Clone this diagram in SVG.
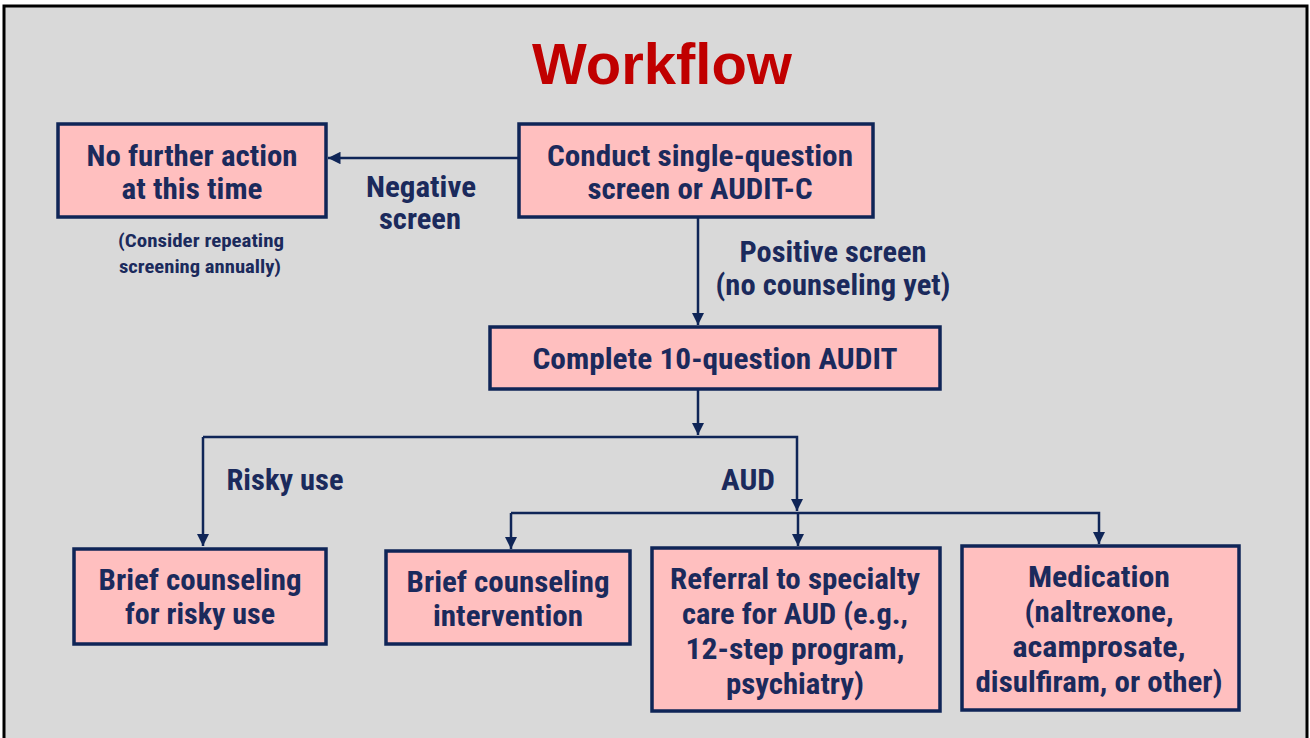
<svg xmlns="http://www.w3.org/2000/svg" width="1310" height="738" viewBox="0 0 1310 738">
<defs>
<style>
.bg{fill:#D9D9D9;stroke:#000;stroke-width:3}
.box{fill:#FFBFBF;stroke:#0F2557;stroke-width:3.5}
.t{font-family:"Roboto Condensed","DejaVu Sans Condensed","Liberation Sans Narrow",Roboto,sans-serif;font-weight:bold;font-size:30px;fill:#1B2A5C;text-anchor:middle}
.s{font-size:18px}
.title{font-family:"Liberation Sans",Arial,sans-serif;font-weight:bold;font-size:58px;fill:#C00000;text-anchor:middle}
.c{fill:none;stroke:#0F2557;stroke-width:2.5}
</style>
<marker id="ah" viewBox="0 0 10 10" refX="10" refY="5" markerWidth="5" markerHeight="5" markerUnits="strokeWidth" orient="auto">
<path d="M0,0 L10,5 L0,10 z" fill="#0F2557"/>
</marker>
</defs>
<rect class="bg" x="4" y="6" width="1303" height="740"/>
<text class="title" x="662" y="84">Workflow</text>

<g id="connectors">
<path class="c" d="M519,158 H328" marker-end="url(#ah)"/>
<path class="c" d="M698,217 V325" marker-end="url(#ah)"/>
<path class="c" d="M698,389 V435" marker-end="url(#ah)"/>
<path class="c" d="M203,437 H797 V511" marker-end="url(#ah)"/>
<path class="c" d="M203,437 V546" marker-end="url(#ah)"/>
<path class="c" d="M511,513 H1099 V544" marker-end="url(#ah)"/>
<path class="c" d="M511,513 V549" marker-end="url(#ah)"/>
<path class="c" d="M798,513 V546" marker-end="url(#ah)"/>
</g>

<g id="labels">
<text class="t" x="421" y="197" textLength="110" lengthAdjust="spacingAndGlyphs">Negative</text>
<text class="t" x="420" y="229" textLength="82" lengthAdjust="spacingAndGlyphs">screen</text>
<text class="t" x="833" y="262" textLength="187" lengthAdjust="spacingAndGlyphs">Positive screen</text>
<text class="t" x="833" y="295" textLength="235" lengthAdjust="spacingAndGlyphs">(no counseling yet)</text>
<text class="t" x="285" y="490" textLength="117" lengthAdjust="spacingAndGlyphs">Risky use</text>
<text class="t" x="748" y="490" textLength="54" lengthAdjust="spacingAndGlyphs">AUD</text>
</g>

<g id="n-nofurther">
<rect class="box" x="58" y="124" width="268" height="93"/>
<text class="t" x="192" y="166" textLength="211" lengthAdjust="spacingAndGlyphs">No further action</text>
<text class="t" x="192" y="199" textLength="141" lengthAdjust="spacingAndGlyphs">at this time</text>
</g>
<g id="n-consider">
<text class="t s" x="201" y="247" textLength="166" lengthAdjust="spacingAndGlyphs">(Consider repeating</text>
<text class="t s" x="200" y="273" textLength="162" lengthAdjust="spacingAndGlyphs">screening annually)</text>
</g>
<g id="n-conduct">
<rect class="box" x="519" y="124" width="354" height="93"/>
<text class="t" x="700" y="166" textLength="306" lengthAdjust="spacingAndGlyphs">Conduct single-question</text>
<text class="t" x="700" y="199" textLength="225" lengthAdjust="spacingAndGlyphs">screen or AUDIT-C</text>
</g>
<g id="n-audit">
<rect class="box" x="490" y="327" width="450" height="62"/>
<text class="t" x="715" y="369" textLength="365" lengthAdjust="spacingAndGlyphs">Complete 10-question AUDIT</text>
</g>
<g id="n-risky">
<rect class="box" x="74" y="549" width="252" height="95"/>
<text class="t" x="200" y="590" textLength="203" lengthAdjust="spacingAndGlyphs">Brief counseling</text>
<text class="t" x="200" y="624" textLength="150" lengthAdjust="spacingAndGlyphs">for risky use</text>
</g>
<g id="n-brief">
<rect class="box" x="386" y="551" width="244" height="93"/>
<text class="t" x="508" y="592" textLength="203" lengthAdjust="spacingAndGlyphs">Brief counseling</text>
<text class="t" x="508" y="626" textLength="150" lengthAdjust="spacingAndGlyphs">intervention</text>
</g>
<g id="n-referral">
<rect class="box" x="652" y="548" width="288" height="163"/>
<text class="t" x="795" y="589" textLength="250" lengthAdjust="spacingAndGlyphs">Referral to specialty</text>
<text class="t" x="795" y="624" textLength="226" lengthAdjust="spacingAndGlyphs">care for AUD (e.g.,</text>
<text class="t" x="795" y="659" textLength="219" lengthAdjust="spacingAndGlyphs">12-step program,</text>
<text class="t" x="795" y="694" textLength="138" lengthAdjust="spacingAndGlyphs">psychiatry)</text>
</g>
<g id="n-medication">
<rect class="box" x="962" y="546" width="277" height="164"/>
<text class="t" x="1099" y="587" textLength="142" lengthAdjust="spacingAndGlyphs">Medication</text>
<text class="t" x="1099" y="622" textLength="149" lengthAdjust="spacingAndGlyphs">(naltrexone,</text>
<text class="t" x="1099" y="657" textLength="173" lengthAdjust="spacingAndGlyphs">acamprosate,</text>
<text class="t" x="1099" y="692" textLength="247" lengthAdjust="spacingAndGlyphs">disulfiram, or other)</text>
</g>
</svg>
